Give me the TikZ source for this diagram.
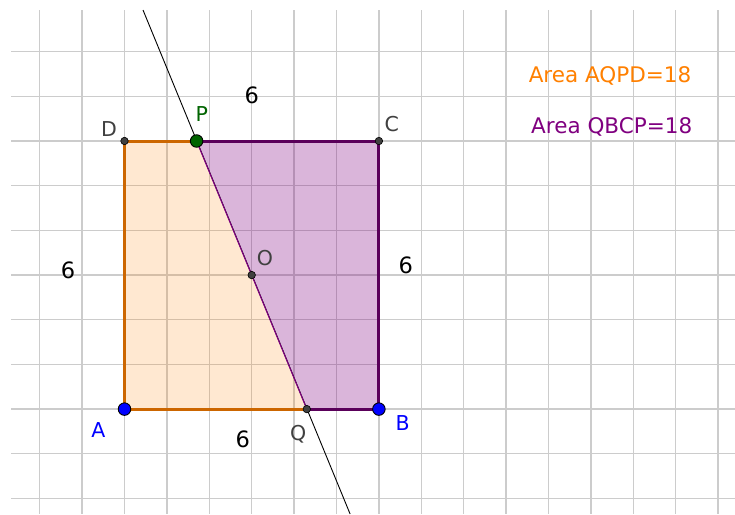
\documentclass[tikz,border=0pt]{standalone}
\usepackage{fontspec}
\setmainfont{DejaVu Sans}
\definecolor{gridc}{RGB}{204,204,204}
\definecolor{orfill}{RGB}{255,128,0}
\definecolor{orline}{RGB}{204,102,0}
\definecolor{orange2}{RGB}{255,128,0}
\definecolor{pufill}{RGB}{128,0,128}
\definecolor{puline}{RGB}{90,0,90}
\definecolor{ptgray}{RGB}{64,64,64}
\definecolor{ptblue}{RGB}{0,0,255}
\definecolor{ptgreen}{RGB}{0,100,0}
\tikzset{
  gridline/.style={gridc, line width=1.4pt},
  bigpt/.style={circle, draw=black, line width=0.9pt, minimum size=12.5pt, inner sep=0pt},
  smallpt/.style={circle, draw=black, fill=ptgray, line width=0.6pt, minimum size=7.5pt, inner sep=0pt},
  lbl/.style={font=\fontsize{20.5}{20.5}\selectfont, inner sep=0pt},
  num/.style={font=\fontsize{22.5}{22.5}\selectfont, inner sep=0pt, text=black},
  area/.style={font=\fontsize{21.5}{21.5}\selectfont, inner sep=0pt}
}
\begin{document}
\begin{tikzpicture}[x=1pt,y=-1pt]
\useasboundingbox (0,0) rectangle (735,514);
\fill[white] (0,0) rectangle (735,514);
% grid
\foreach \k in {0,...,16} \draw[gridline] ({39.7+42.4*\k},10) -- ({39.7+42.4*\k},514);
\foreach \k in {0,...,10} \draw[gridline] (11,{51.7+44.67*\k}) -- (735,{51.7+44.67*\k});
% points
\coordinate (A) at (124.5,409.1);
\coordinate (B) at (378.9,409.1);
\coordinate (C) at (378.9,141.0);
\coordinate (D) at (124.5,141.0);
\coordinate (P) at (196.6,141.0);
\coordinate (Q) at (306.8,409.1);
\coordinate (O) at (251.7,275.05);
\coordinate (L1) at (143.0,10);
\coordinate (L2) at (350.1,514);
% fills
\fill[orfill, opacity=0.18] (A) -- (Q) -- (P) -- (D) -- cycle;
\fill[pufill, opacity=0.29] (Q) -- (B) -- (C) -- (P) -- cycle;
% line through P and Q
\draw[black, line width=0.9pt] (L1) -- (L2);
\draw[pufill, line width=1.1pt] (P) -- (Q);
% borders
\draw[orline, line width=3pt] (A) -- (Q);
\draw[orline, line width=3pt] (P) -- (D) -- (A);
\draw[puline, line width=3pt] (Q) -- (B) -- (C) -- (P);
% point markers
\node[smallpt] (nD) at (D) {};
\node[smallpt] (nC) at (C) {};
\node[smallpt] (nO) at (O) {};
\node[smallpt] (nQ) at (Q) {};
\node[bigpt, fill=ptblue] (nA) at (A) {};
\node[bigpt, fill=ptblue] (nB) at (B) {};
\node[bigpt, fill=ptgreen] (nP) at (P) {};
% labels
\node[lbl, text=ptgray] (tD) at (109,129) {D};
\node[lbl, text=ptgreen] (tP) at (201.7,114) {P};
\node[lbl, text=ptgray] (tC) at (391.7,124) {C};
\node[lbl, text=ptgray] (tO) at (265,258) {O};
\node[lbl, text=ptblue] (tA) at (98.3,430) {A};
\node[lbl, text=ptblue] (tB) at (402.7,423.3) {B};
\node[lbl, text=ptgray] (tQ) at (298.3,434) {Q};
% side lengths
\node[num] (s1) at (251.7,95) {6};
\node[num] (s2) at (68,270) {6};
\node[num] (s3) at (405.7,265) {6};
\node[num] (s4) at (242.8,439) {6};
% area texts
\node[area, text=orange2] (a1) at (610,76) {Area AQPD=18};
\node[area, text=pufill] (a2) at (611.7,127.3) {Area QBCP=18};
\end{tikzpicture}
\end{document}
